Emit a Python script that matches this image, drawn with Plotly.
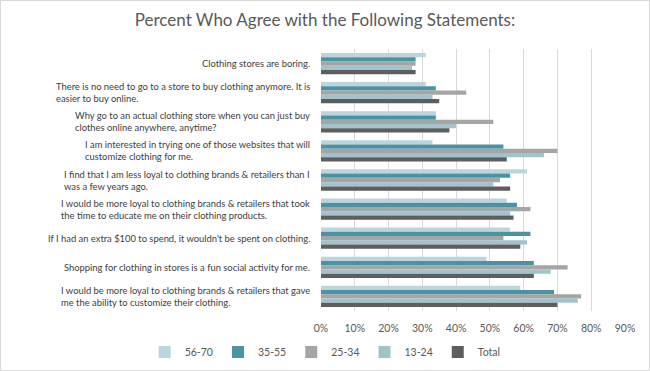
import plotly.graph_objects as go

categories = [
    "Clothing stores are boring.",
    "There is no need to go to a store to buy clothing anymore. It is<br>easier to buy online.",
    "Why go to an actual clothing store when you can just buy<br>clothes online anywhere, anytime?",
    "I am interested in trying one of those websites that will<br>customize clothing for me.",
    "I find that I am less loyal to clothing brands & retailers than I<br>was a few years ago.",
    "I would be more loyal to clothing brands & retailers that took<br>the time to educate me on their clothing products.",
    "If I had an extra $100 to spend, it wouldn't be spent on clothing.",
    "Shopping for clothing in stores is a fun social activity for me.",
    "I would be more loyal to clothing brands & retailers that gave<br>me the ability to customize their clothing.",
]

age_56_70 = [31, 31, 34, 33, 61, 55, 56, 49, 59]
age_35_55 = [28, 34, 34, 54, 56, 58, 62, 63, 69]
age_25_34 = [28, 43, 51, 70, 53, 62, 54, 73, 77]
age_13_24 = [27, 33, 40, 66, 51, 56, 61, 68, 76]
total = [28, 35, 38, 55, 56, 57, 59, 63, 70]

series_names = ["56-70", "35-55", "25-34", "13-24", "Total"]
series_values = [age_56_70, age_35_55, age_25_34, age_13_24, total]
colors = ["#b9d6df", "#4b92a4", "#a5a5a5", "#a2c3cc", "#5e5e5e"]

tick_vals = [0, 10, 20, 30, 40, 50, 60, 70, 80, 90]
tick_text = ["0%", "10%", "20%", "30%", "40%", "50%", "60%", "70%", "80%", "90%"]

FONT = "Lato, 'Open Sans', sans-serif"

fig = go.Figure()
for name, vals, col in zip(series_names, series_values, colors):
    fig.add_trace(go.Bar(
        y=categories, x=vals, name=name, orientation="h",
        marker=dict(color=col, line=dict(width=0)),
    ))

for cat in categories:
    fig.add_annotation(
        x=0, xref="paper", y=cat, yref="y", xanchor="right", xshift=-9,
        text=cat, showarrow=False, align="left",
        font=dict(family=FONT, size=9.4, color="#404040"),
    )

fig.update_layout(
    width=650, height=371,
    margin=dict(l=321, r=25, t=49, b=60, autoexpand=False),
    paper_bgcolor="white", plot_bgcolor="white",
    barmode="group", bargap=0.27, bargroupgap=0,
    title=dict(text="Percent Who Agree with the Following Statements:",
               x=0.5, xanchor="center", y=1 - 20 / 371, yanchor="middle",
               font=dict(family=FONT, size=17, color="#595959")),
    xaxis=dict(range=[0, 90], tickvals=tick_vals, ticktext=tick_text,
               showgrid=True, gridcolor="#d9d9d9", gridwidth=1,
               zeroline=False, showline=False, ticklabelstandoff=9,
               tickfont=dict(family=FONT, size=10.5, color="#595959")),
    yaxis=dict(autorange="reversed", showticklabels=False, showgrid=False,
               zeroline=False, showline=False),
    legend=dict(orientation="h", xref="paper", yref="paper",
                x=-0.58, xanchor="left", y=-41 / 262, yanchor="middle",
                font=dict(family=FONT, size=10.5, color="#595959"),
                itemwidth=30, traceorder="normal"),
    shapes=[dict(type="rect", xref="paper", yref="paper",
                 x0=-320.5 / 304, x1=1 + 24.5 / 304, y0=-59.5 / 262, y1=1 + 48.5 / 262,
                 line=dict(color="#d9d9d9", width=1))],
    showlegend=True,
)

fig.write_html("out.html", config={"displayModeBar": False},
               post_script="document.body.style.margin='0';document.body.style.overflow='hidden';")
